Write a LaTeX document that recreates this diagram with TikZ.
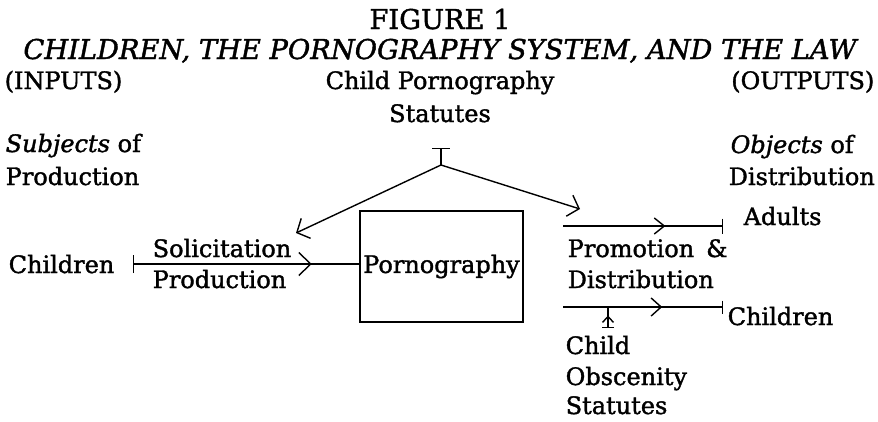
\documentclass[tikz,border=0pt]{standalone}
\usepackage{fontspec}
\setmainfont{DejaVu Serif}[FakeBold=1.5]
\usetikzlibrary{arrows.meta,decorations.markings}
\begin{document}
\begin{tikzpicture}[x=1pt,y=-1pt,line width=1.4pt,
  lbl/.style={inner sep=0pt,font=\fontsize{24}{28}\selectfont},
  head/.style={inner sep=0pt,font=\fontsize{27.3}{30}\selectfont},
  midarr/.style n args={3}{postaction={decorate,decoration={markings,
      mark=at position #1 with {\arrow{Straight Barb[length=#2,width=#3]}}}}},
  tipbarb/.style={-{Straight Barb[length=10pt,width=22pt]}}]
\fill[white] (0,0) rectangle (878,421);
\useasboundingbox (0,0) rectangle (878,421);
% headings
\node[head,anchor=base] (fig) at (440,29) {FIGURE 1};
\node[head,anchor=base] (title) at (440,59) {\itshape CHILDREN, THE PORNOGRAPHY SYSTEM, AND THE LAW};
\node[lbl,anchor=base west] (inputs) at (4,89) {(INPUTS)};
\node[lbl,anchor=base] (cp1) at (440,89) {Child Pornography};
\node[lbl,anchor=base] (cp2) at (440,122) {Statutes};
\node[lbl,anchor=base east] (outputs) at (875,89) {(OUTPUTS)};
\node[lbl,anchor=base west] (subj) at (5,152) {\textit{Subjects} of};
\node[lbl,anchor=base west] (prod) at (5,185) {Production};
\node[lbl,anchor=base west] (obj) at (730,153) {\textit{Objects} of};
\node[lbl,anchor=base west] (dist) at (728,185) {Distribution};
% left input
\node[lbl,anchor=base west] (childL) at (8,273) {Children};
\node[lbl,anchor=base west] (solic) at (152,257) {Solicitation};
\node[lbl,anchor=base west] (prodn) at (152,288) {Production};
% box
\node[draw,lbl,minimum width=163pt,minimum height=111pt] (box) at (441.5,266.5) {Pornography};
% right side
\node[lbl,anchor=base west] (adults) at (743,225) {Adults};
\node[lbl,anchor=base west] (promo) at (567,257) {Promotion\hspace{0.5em}\&};
\node[lbl,anchor=base west] (distr) at (567,288) {Distribution};
\node[lbl,anchor=base west] (childR) at (727,325) {Children};
\node[lbl,anchor=base west] (cos1) at (565,354) {Child};
\node[lbl,anchor=base west] (cos2) at (565,385) {Obscenity};
\node[lbl,anchor=base west] (cos3) at (565,414) {Statutes};
% coordinates
\coordinate (inS) at (133,264);
\coordinate (tTop) at (441,148);
\coordinate (apex) at (441,165);
\coordinate (lTip) at (296,233);
\coordinate (rTip) at (580,209);
\coordinate (aS) at (563,226);
\coordinate (aE) at (723,226);
\coordinate (cS) at (563,307);
\coordinate (cE) at (723,307);
\coordinate (oB) at (608,328);
\coordinate (oT) at (608,307);
% connectors
\draw[{Bar[width=18pt]}-,midarr={0.79}{12pt}{23pt}] (inS) -- (box.west |- inS);
\draw[{Bar[width=18pt]}-] (tTop) -- (apex);
\draw[tipbarb] (apex) -- (lTip);
\draw[tipbarb] (apex) -- (rTip);
\draw[-{Bar[width=15pt]},midarr={0.64}{10pt}{16pt}] (aS) -- (aE);
\draw[-{Bar[width=13pt]},midarr={0.62}{10pt}{18pt}] (cS) -- (cE);
\draw[{Bar[width=12pt]}-,midarr={0.6}{6pt}{11pt}] (oB) -- (oT);
\end{tikzpicture}
\end{document}
